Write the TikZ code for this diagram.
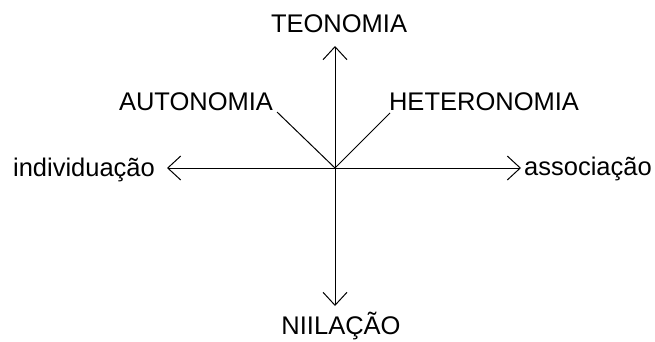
\documentclass[tikz,border=0pt]{standalone}
\usepackage{fontspec}
\setmainfont{Liberation Sans}
\usetikzlibrary{arrows.meta}
\begin{document}
\begin{tikzpicture}[x=1pt,y=-1pt,
  lbl/.style={font=\fontsize{25.5}{30}\selectfont, inner sep=0pt, anchor=base},
  axis/.style={line width=1pt, -{Straight Barb[length=13pt,width=24pt,line width=1pt]}},
  diag/.style={line width=1pt}]
\useasboundingbox (0,0) rectangle (655,341);
\coordinate (c) at (335,168);
\coordinate (top) at (335,46);
\coordinate (bot) at (335,306);
\coordinate (lft) at (167,168);
\coordinate (rgt) at (521,168);
\coordinate (dl) at (277,112);
\coordinate (dr) at (390,113);
\draw[axis] (c) -- (top);
\draw[axis] (c) -- (bot);
\draw[axis] (c) -- (lft);
\draw[axis] (c) -- (rgt);
\draw[diag] (c) -- (dl);
\draw[diag] (c) -- (dr);
\node[lbl] (teo) at (339,32) {TEONOMIA};
\node[lbl] (aut) at (196,110) {AUTONOMIA};
\node[lbl] (het) at (484,110) {HETERONOMIA};
\node[lbl] (ind) at (84,176) {individuação};
\node[lbl] (ass) at (588,175) {associação};
\node[lbl] (nii) at (341,334) {NIILAÇÃO};
\end{tikzpicture}
\end{document}
